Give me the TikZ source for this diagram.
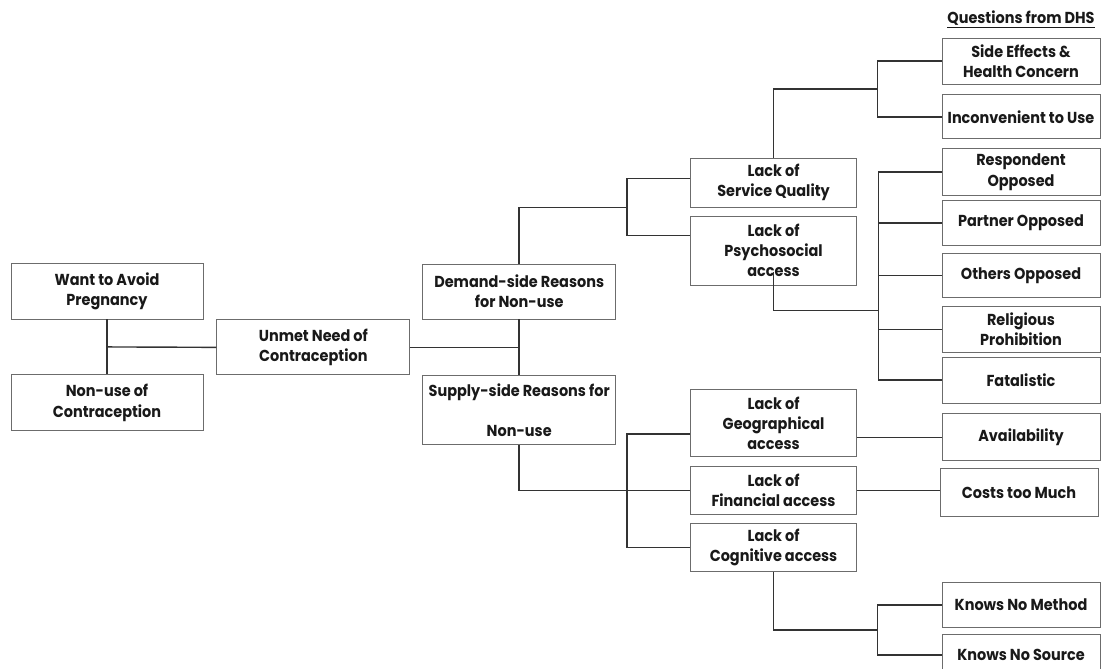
\documentclass[tikz,border=0pt]{standalone}
\usepackage{fontspec}
\setmainfont{Poppins}[FakeStretch=0.91]
\usetikzlibrary{positioning, calc}

\begin{document}
\begin{tikzpicture}[
    node distance=0.2cm and 1.6cm,
    box/.style={rectangle, draw=gray!85!black, line width=0.6pt, inner xsep=1pt, inner ysep=0pt, align=center, font=\fontsize{11.3}{14.4}\selectfont\bfseries, text=black!90},
    reason/.style={box, minimum width=4.825cm},
    lack/.style={box, minimum width=4.15cm},
    question/.style={box, minimum width=3.95cm},
    link/.style={line width=1pt, black!80}
]
\useasboundingbox (0,0) rectangle (27.575,-16.7);

% Left: the two conditions and unmet need
\node[box, minimum width=4.8cm, minimum height=1.4cm] (want) at (2.675,-7.275) {Want to Avoid\\Pregnancy};
\node[box, minimum width=4.8cm, minimum height=1.4cm, below=1.375cm of want] (nonuse) {Non-use of\\Contraception};
\node[reason, minimum height=1.375cm, below right=0cm and 0.325cm of want.south east] (unmet) {Unmet Need of\\Contraception};

% Reasons for non-use
\node[reason, minimum height=1.375cm, above right=0cm and 0.3cm of unmet.north east] (demand) {Demand-side Reasons\\for Non-use};
\node[reason, minimum height=1.725cm, below=1.4cm of demand] (supply) {Supply-side Reasons for\\[14.4pt]Non-use};

% Lack of ... (access dimensions)
\node[lack, minimum height=1.225cm, above right=1.4cm and 1.85cm of demand.north east] (service) {Lack of\\Service Quality};
\node[lack, minimum height=1.725cm, below=0.2cm of service] (psycho) {Lack of\\Psychosocial\\access};
\node[lack, minimum height=1.675cm, below=2.6cm of psycho] (geo) {Lack of\\Geographical\\access};
\node[lack, minimum height=1.2cm, below=0.225cm of geo] (fin) {Lack of\\Financial access};
\node[lack, minimum height=1.2cm, below=0.2cm of fin] (cog) {Lack of\\Cognitive access};

% Questions from DHS (right column)
\node[question, minimum height=1.15cm] (sideeff) at (25.525,-1.525) {Side Effects \&\\Health Concern};
\node[question, minimum height=1.1cm, below=0.25cm of sideeff] (incon) {Inconvenient to Use};
\node[question, minimum height=1.175cm, below=0.225cm of incon] (resp) {Respondent\\Opposed};
\node[question, minimum height=1.125cm, below=0.1cm of resp] (partner) {Partner Opposed};
\node[question, minimum height=1.1cm, below=0.175cm of partner] (others) {Others Opposed};
\node[question, minimum height=1.15cm, below=0.2cm of others] (relig) {Religious\\Prohibition};
\node[question, minimum height=1.15cm, below=0.1cm of relig] (fatal) {Fatalistic};
\node[question, minimum height=1.175cm, below=0.25cm of fatal] (avail) {Availability};
\node[question, minimum height=1.2cm, below=0.175cm of avail, xshift=-0.05cm] (costs) {Costs too Much};
\node[question, minimum height=1.125cm, below=1.625cm of costs, xshift=0.05cm] (method) {Knows No Method};
\node[question, minimum height=1.025cm, below=0.15cm of method] (source) {Knows No Source};

\node[inner sep=0pt, font=\fontsize{11.3}{14.4}\selectfont\bfseries, text=black!90, above=0.22cm of sideeff] (title) {\underline{Questions from DHS}};

% === Connectors ===
% Want + non-use -> unmet need
\draw[link] (want) -- (nonuse);
\draw[link] ($(want.south)!0.5!(nonuse.north)$) -- (unmet.west);
\draw[link] (unmet.east) -- (unmet.east -| demand.south);
\draw[link] (demand) -- (supply);

% Demand side
\draw[link] (demand.north) |- ([xshift=-1.575cm]service.south west);
\draw[link] ([yshift=0.1cm]service.west) -| ([xshift=-1.575cm]service.south west) |- ([yshift=0.375cm]psycho.west);

% Service quality questions
\draw[link] (service.north) |- ($(sideeff.west)!0.5!(incon.west)+(-1.6,0)$);
\draw[link] (sideeff.west) -| ([xshift=-1.6cm]incon.west) -- (incon.west);

% Psychosocial questions
\coordinate (pfork) at ($(psycho.south)+(0,-0.625)$);
\coordinate (opfork) at ([xshift=-1.575cm]resp.west);
\draw[link] ([yshift=0.325cm]psycho.south) -- (pfork) -- (pfork -| opfork);
\draw[link] (resp.west) -- (opfork) -- (opfork |- fatal.west) -- (fatal.west);
\draw[link] (partner.west) -- (partner.west -| opfork);
\draw[link] (others.west) -- (others.west -| opfork);
\draw[link] (relig.west) -- (relig.west -| opfork);

% Supply side
\draw[link] (supply.south) |- (fin.west);
\draw[link] ([yshift=-0.2625cm]geo.west) -| ([xshift=-1.575cm]cog.west) -- (cog.west);
\draw[link] (geo.east |- avail.west) -- (avail.west);
\draw[link] (fin.east) -- (fin.east -| costs.west);
\draw[link] (cog.south) |- ($(method.west)!0.5!(source.west)+(-1.6,0)$);
\draw[link] (method.west) -| ([xshift=-1.6cm]source.west) -- (source.west);
\end{tikzpicture}
\end{document}
